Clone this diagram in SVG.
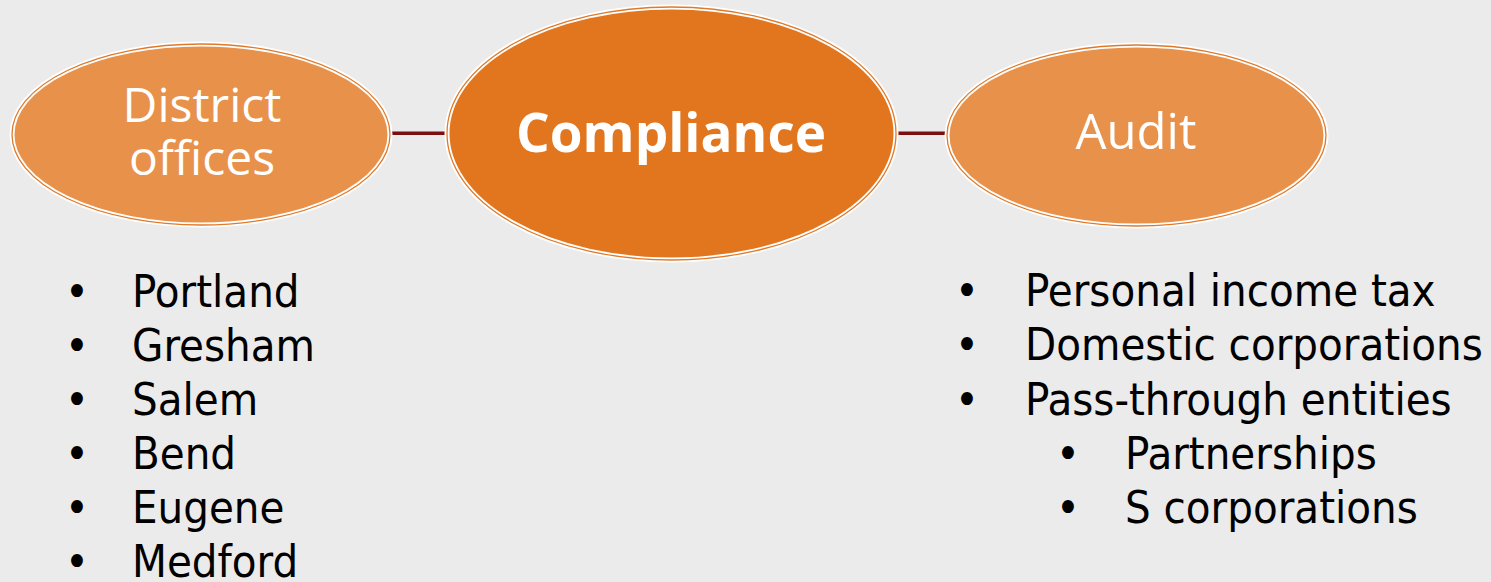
<svg xmlns="http://www.w3.org/2000/svg" width="1491" height="582" viewBox="0 0 1491 582">
<style>
.bg{fill:#ebebeb}
.ring{stroke:#ffffff;stroke-width:5}
.line{fill:none;stroke:#e07a2a;stroke-width:1.3}
.light{fill:#e8914b}
.dark{fill:#e2761f}
.lbl{font-family:"Open Sans","Liberation Sans",sans-serif;fill:#ffffff;text-anchor:middle}
.conn{stroke:#7b0f0f;stroke-width:3.5;fill:none}
.list{font-family:"DejaVu Sans Condensed","DejaVu Sans",sans-serif;font-stretch:condensed;font-size:45px;fill:#000000}
</style>
<rect class="bg" x="0" y="0" width="1491" height="582"/>
<g id="connectors">
<line class="conn" x1="388" y1="133.3" x2="450" y2="133.3"/>
<line class="conn" x1="894" y1="133.3" x2="950" y2="133.3"/>
</g>
<g id="node-district">
<ellipse class="light ring" cx="201" cy="134.5" rx="189" ry="90.5"/>
<ellipse class="line" cx="201" cy="134.5" rx="189" ry="90.5"/>
<text class="lbl" x="202" y="122" font-size="48">District</text>
<text class="lbl" x="202" y="175" font-size="48">offices</text>
</g>
<g id="node-compliance">
<ellipse class="dark ring" cx="671.5" cy="133.5" rx="224.5" ry="126.5"/>
<ellipse class="line" cx="671.5" cy="133.5" rx="224.5" ry="126.5"/>
<text class="lbl" x="671" y="152" font-size="53" font-weight="bold">Compliance</text>
</g>
<g id="node-audit">
<ellipse class="light ring" cx="1136.5" cy="135.5" rx="189.5" ry="90.5"/>
<ellipse class="line" cx="1136.5" cy="135.5" rx="189.5" ry="90.5"/>
<text class="lbl" x="1136" y="149" font-size="49">Audit</text>
</g>
<g id="list-district">
<text class="list" x="65" y="307">•</text><text class="list" x="132" y="307">Portland</text>
<text class="list" x="65" y="361">•</text><text class="list" x="132" y="361">Gresham</text>
<text class="list" x="65" y="415">•</text><text class="list" x="132" y="415">Salem</text>
<text class="list" x="65" y="469">•</text><text class="list" x="132" y="469">Bend</text>
<text class="list" x="65" y="523">•</text><text class="list" x="132" y="523">Eugene</text>
<text class="list" x="65" y="577">•</text><text class="list" x="132" y="577">Medford</text>
</g>
<g id="list-audit">
<text class="list" x="955" y="306">•</text><text class="list" x="1025" y="306">Personal income tax</text>
<text class="list" x="955" y="360">•</text><text class="list" x="1025" y="360">Domestic corporations</text>
<text class="list" x="955" y="415">•</text><text class="list" x="1025" y="415">Pass-through entities</text>
<text class="list" x="1056" y="469">•</text><text class="list" x="1125" y="469">Partnerships</text>
<text class="list" x="1056" y="523">•</text><text class="list" x="1125" y="523">S corporations</text>
</g>
</svg>
